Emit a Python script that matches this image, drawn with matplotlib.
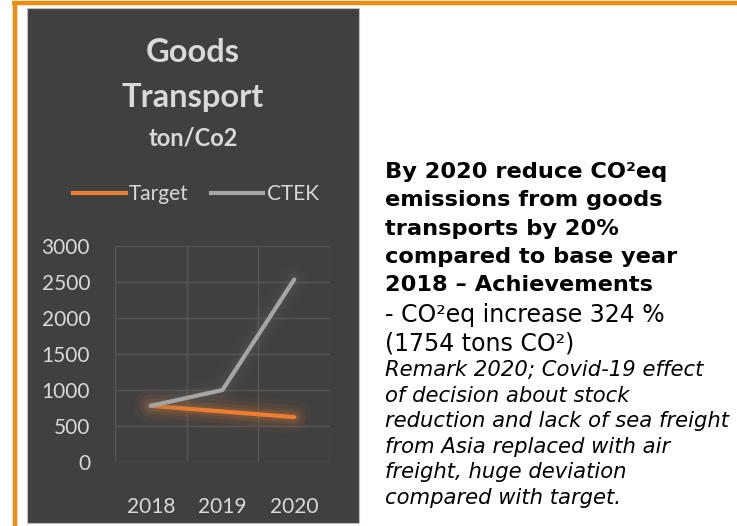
import matplotlib.pyplot as plt
import matplotlib.patheffects as pe
from matplotlib.patches import Rectangle
from matplotlib.lines import Line2D

years = ["2018", "2019", "2020"]
target = [780, 702, 624]
ctek = [780, 1000, 2534]
y_ticks = [0, 500, 1000, 1500, 2000, 2500, 3000]

bold_lines = [
    "By 2020 reduce CO\u00b2eq",
    "emissions from goods",
    "transports by 20%",
    "compared to base year",
    "2018 \u2013 Achievements",
]
normal_lines = [
    "- CO\u00b2eq increase 324 %",
    "(1754 tons CO\u00b2)",
]
italic_lines = [
    "Remark 2020; Covid-19 effect",
    "of decision about stock",
    "reduction and lack of sea freight",
    "from Asia replaced with air",
    "freight, huge deviation",
    "compared with target.",
]

W, H = 737, 526
ORANGE = "#ed7d31"
GREY = "#a5a5a5"
LIGHT = "#d9d9d9"
PANEL = "#404040"


def fx(px):
    return px / W


def fy(py):
    return 1 - py / H


fig = plt.figure(figsize=(W / 100, H / 100), dpi=100)
fig.patch.set_facecolor("white")

# orange frame (top + left)
fig.add_artist(Line2D([fx(12), 1], [fy(3), fy(3)], color="#ef8c0e", lw=3.2,
                      solid_capstyle="butt", zorder=-5))
fig.add_artist(Line2D([fx(15), fx(15)], [fy(1), 0], color="#ef8c0e", lw=3.2,
                      solid_capstyle="butt", zorder=-5))

# dark chart panel
fig.add_artist(Rectangle((fx(27), fy(523)), fx(332), 515 / H, facecolor=PANEL,
                         edgecolor="#bfbfbf", lw=0.8, transform=fig.transFigure,
                         zorder=-10))

fig.text(fx(193), fy(52), "Goods", ha="center", va="center", color=LIGHT,
         fontsize=23.5, fontweight="bold", family="Lato")
fig.text(fx(193), fy(98), "Transport", ha="center", va="center", color=LIGHT,
         fontsize=23.5, fontweight="bold", family="Lato")
fig.text(fx(193), fy(138), "ton/Co2", ha="center", va="center", color=LIGHT,
         fontsize=17, fontweight="bold", family="Lato")

ax = fig.add_axes([fx(115), fy(462), fx(215), 216 / H])
ax.set_facecolor("none")
x = range(len(years))


def glow(color, a=1.0):
    return [pe.Stroke(linewidth=24, foreground=color, alpha=0.04 * a),
            pe.Stroke(linewidth=17, foreground=color, alpha=0.06 * a),
            pe.Stroke(linewidth=11, foreground=color, alpha=0.09 * a),
            pe.Stroke(linewidth=7, foreground=color, alpha=0.12 * a),
            pe.Normal()]


l1, = ax.plot(x, target, color=ORANGE, lw=3, solid_capstyle="round",
              path_effects=glow(ORANGE, 1.2), zorder=3)
l2, = ax.plot(x, ctek, color=GREY, lw=3, solid_capstyle="round",
              path_effects=glow("#707070", 0.8), zorder=3)

ax.set_xlim(-0.5, 2.5)
ax.set_ylim(0, 3000)
ax.set_xticks(list(x))
ax.set_xticklabels(years)
ax.set_xticks([-0.5, 0.5, 1.5, 2.5], minor=True)
ax.set_yticks(y_ticks)
ax.grid(True, which="minor", axis="x", color="#555555", lw=1)
ax.grid(True, which="major", axis="y", color="#555555", lw=1)
ax.tick_params(which="both", length=0, colors=LIGHT, labelsize=15)
ax.tick_params(axis="y", pad=18)
ax.tick_params(axis="x", pad=25)
for lab in ax.get_xticklabels() + ax.get_yticklabels():
    lab.set_family("Lato")
for s in ax.spines.values():
    s.set_visible(False)

leg = fig.legend(handles=[Line2D([], [], color=ORANGE, lw=3),
                          Line2D([], [], color=GREY, lw=3)],
                 labels=["Target", "CTEK"], loc="center",
                 bbox_to_anchor=(fx(196), fy(194)),
                 ncol=2, frameon=False, handlelength=2.5, handletextpad=0.15,
                 columnspacing=1.1, prop={"family": "Lato", "size": 15})
for t in leg.get_texts():
    t.set_color(LIGHT)

# text on the right
ypos = 172
for s in bold_lines:
    fig.text(fx(385), fy(ypos), s, ha="left", va="center", fontsize=16.2,
             fontweight="bold", family="DejaVu Sans", color="black")
    ypos += 28.3
ypos = 315
for s in normal_lines:
    fig.text(fx(385), fy(ypos), s, ha="left", va="center", fontsize=17,
             family="DejaVu Sans", color="black")
    ypos += 28.3
ypos = 370
for s in italic_lines:
    fig.text(fx(385), fy(ypos), s, ha="left", va="center", fontsize=15.2,
             style="italic", family="DejaVu Sans", color="black")
    ypos += 25.6

fig.savefig("out.png", dpi=100)
